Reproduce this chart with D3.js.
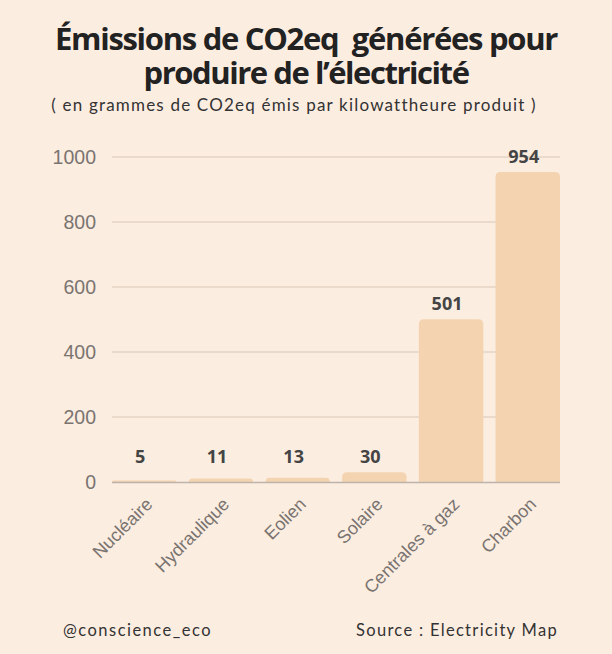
<!DOCTYPE html>
<html><head><meta charset="utf-8">
<script src="https://cdn.jsdelivr.net/npm/d3@7"></script>
<style>
html,body{margin:0;padding:0;background:#fcede1;}
svg{display:block;}
text{white-space:pre;}
</style></head>
<body>
<svg id="chart" width="612" height="654"></svg>
<script>
const categories = ["Nucléaire","Hydraulique","Eolien","Solaire","Centrales à gaz","Charbon"];
const values = [5, 11, 13, 30, 501, 954];
const yTicks = [0, 200, 400, 600, 800, 1000];

const svg = d3.select("#chart");
const W = 612, H = 654;
svg.append("rect").attr("width", W).attr("height", H).attr("fill", "#fcede1");

const m = {left:112, right:52, top:157, bottom:172};
const x = d3.scaleBand().domain(categories).range([m.left, W - m.right]).paddingInner(0.16).paddingOuter(0);
const y = d3.scaleLinear().domain([0, 1000]).range([H - m.bottom, m.top]);

function fitText(sel, target){
  const n = sel.text().length;
  const w = sel.node().getComputedTextLength();
  sel.attr("letter-spacing", ((target - w) / n).toFixed(3) + "px");
}

// title
const t1 = svg.append("text").attr("x", 306).attr("y", 50).attr("text-anchor","middle")
  .attr("font-family","'Open Sans', sans-serif").attr("font-weight",700).attr("font-size",31)
  .attr("fill","#222").text("Émissions de CO2eq  générées pour");
fitText(t1, 502);
const t2 = svg.append("text").attr("x", 306).attr("y", 84).attr("text-anchor","middle")
  .attr("font-family","'Open Sans', sans-serif").attr("font-weight",700).attr("font-size",31)
  .attr("fill","#222").text("produire de l’électricité");
fitText(t2, 325);
const st = svg.append("text").attr("x", 294).attr("y", 111).attr("text-anchor","middle")
  .attr("font-family","Lato, sans-serif").attr("font-size",17)
  .attr("fill","#333").text("( en grammes de CO2eq émis par kilowattheure produit )");
fitText(st, 485);

// grid
const g = svg.append("g");
g.selectAll("line.grid").data(yTicks.filter(d => d > 0)).join("line")
  .attr("x1", m.left).attr("x2", W - m.right)
  .attr("y1", d => y(d)).attr("y2", d => y(d))
  .attr("stroke", "#e4d3c4").attr("stroke-width", 1.5);

// y axis
const yAxis = d3.axisLeft(y).tickValues(yTicks).tickSize(0).tickPadding(16).tickFormat(d3.format("d"));
const ya = svg.append("g").attr("transform", `translate(${m.left},0)`).call(yAxis);
ya.select(".domain").remove();
ya.selectAll("text").attr("font-family","'Liberation Sans', Arial, sans-serif")
  .attr("font-size",19.5).attr("fill","#7a7470");

// bars
svg.append("g").selectAll("path.bar").data(values).join("path")
  .attr("fill", "#f4d3b0")
  .attr("d", (d, i) => {
    const x0 = x(categories[i]), w = x.bandwidth();
    const top = y(d), bot = y(0);
    const r = Math.min(5, (bot - top));
    return `M${x0},${bot} L${x0},${top + r} Q${x0},${top} ${x0 + r},${top} L${x0 + w - r},${top} Q${x0 + w},${top} ${x0 + w},${top + r} L${x0 + w},${bot} Z`;
  });

// baseline
svg.append("line").attr("x1", m.left).attr("x2", W - m.right)
  .attr("y1", y(0) + 0.5).attr("y2", y(0) + 0.5).attr("stroke", "#bcb3ab").attr("stroke-width", 1.5);

// value labels
svg.append("g").selectAll("text").data(values).join("text")
  .attr("x", (d, i) => x(categories[i]) + x.bandwidth() / 2 - 4)
  .attr("y", d => Math.min(y(d) - 9, y(0) - 19))
  .attr("text-anchor", "middle")
  .attr("font-family","'Open Sans', sans-serif").attr("font-weight",700).attr("font-size",18)
  .attr("fill","#444").text(d => d);

// x labels
svg.append("g").selectAll("text").data(categories).join("text")
  .attr("transform", d => `translate(${x(d) + x.bandwidth() / 2 + 5},${y(0) + 19}) rotate(-45)`)
  .attr("text-anchor","end").attr("dy","0.35em")
  .attr("font-family","'Liberation Sans', Arial, sans-serif").attr("font-size",18)
  .attr("fill","#7a7470").text(d => d);

// footer
const f1 = svg.append("text").attr("x", 63).attr("y", 636)
  .attr("font-family","Lato, sans-serif").attr("font-size",16.5).attr("fill","#333").text("@conscience_eco");
fitText(f1, 149);
const f2 = svg.append("text").attr("x", 356).attr("y", 636)
  .attr("font-family","Lato, sans-serif").attr("font-size",16.5).attr("fill","#333").text("Source : Electricity Map");
fitText(f2, 202);
</script>
</body></html>
